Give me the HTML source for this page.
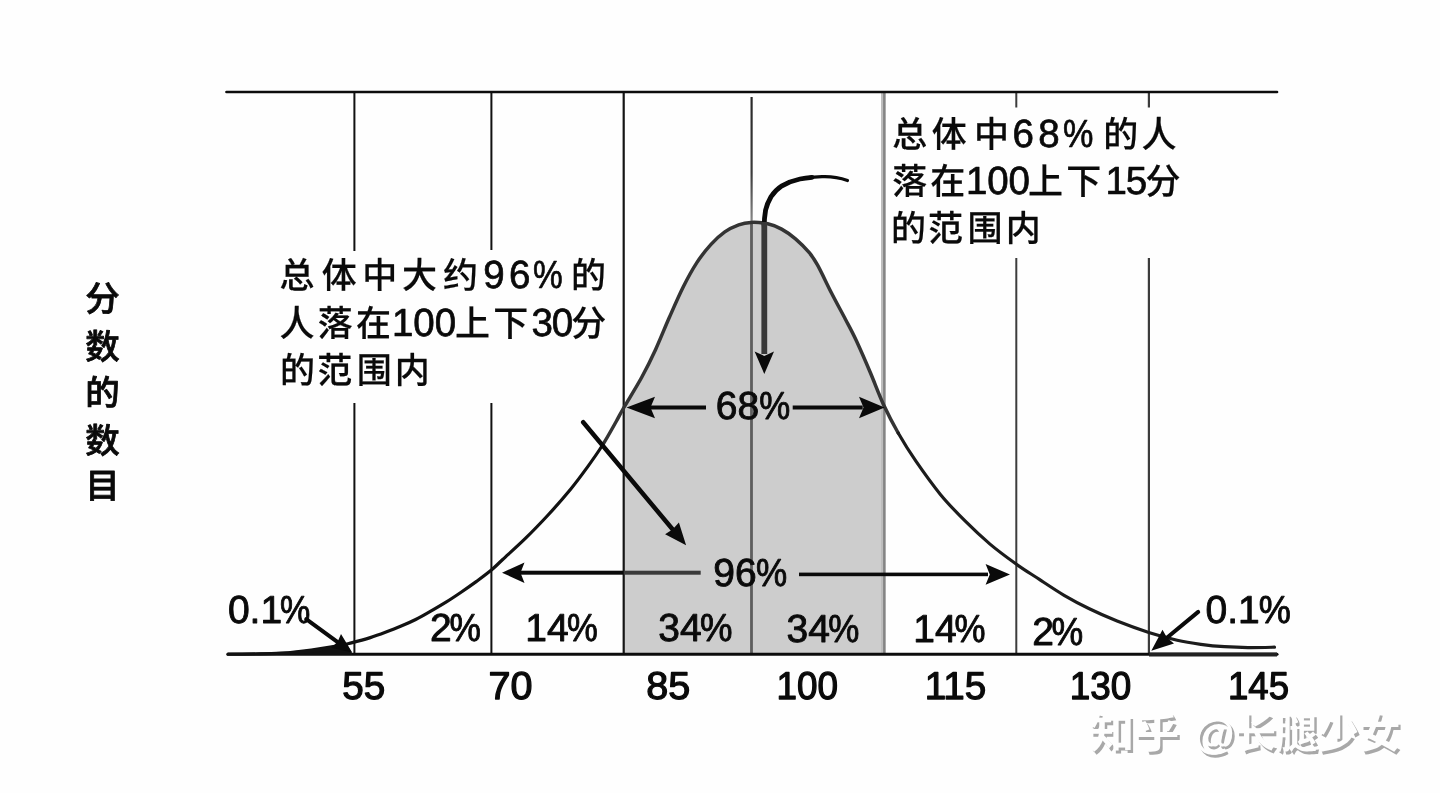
<!DOCTYPE html>
<html lang="zh-CN">
<head>
<meta charset="utf-8">
<title>智商正态分布图</title>
<style>
  html, body { margin: 0; padding: 0; background: #fefefe; }
  body { width: 1440px; height: 793px; overflow: hidden; }
  svg { display: block; filter: grayscale(1); text-rendering: geometricPrecision; }
  .num { font-family: "Liberation Sans", sans-serif; font-size: 39px; fill: #0a0a0a; stroke: #0a0a0a; stroke-width: 0.9px; stroke-linejoin: round; }
  .num.ax { stroke-width: 1.25px; font-size: 38.8px; }
  .cjk { font-family: "Liberation Sans", "Noto Sans CJK SC", sans-serif; font-size: 35px; font-weight: 500; fill: #0a0a0a; stroke: #0a0a0a; stroke-width: 0.2px; stroke-linejoin: round; }
  .cjk .d { font-size: 38.5px; font-weight: 400; stroke-width: 0.7px; }
  .ylab { font-family: "Liberation Sans", "Noto Sans CJK SC", sans-serif; font-size: 34.5px; font-weight: 500; fill: #0a0a0a; stroke: #0a0a0a; stroke-width: 0.8px; stroke-linejoin: round; }
  .wm { font-family: "Liberation Sans", "Noto Sans CJK SC", sans-serif; font-size: 42px; font-weight: 700; }
</style>
</head>
<body>
<svg width="1440" height="793" viewBox="0 0 1440 793">
  <defs>
    <linearGradient id="cl" gradientUnits="userSpaceOnUse" x1="0" y1="97" x2="0" y2="224">
      <stop offset="0" stop-color="#2a2a2a"/>
      <stop offset="0.6" stop-color="#3c3c3c"/>
      <stop offset="1" stop-color="#8c8c8c"/>
    </linearGradient>
  </defs>
  <rect x="0" y="0" width="1440" height="793" fill="#fefefe"/>

  <!-- shaded 68% region -->
  <path d="M623.6 655 L623.6 408 C627.8 400.7 636.3 387.2 641.6 377.5 C646.9 367.8 650.9 359.7 655.5 349.7 C660.1 339.7 664.7 327.9 669.3 317.5 C673.9 307.1 678.6 296.2 683.2 287.0 C687.8 277.8 692.4 269.5 697.0 262.4 C701.6 255.3 706.4 249.5 711.0 244.4 C715.6 239.3 720.2 235.2 724.8 231.9 C729.4 228.6 734.3 226.4 738.7 224.8 C743.1 223.2 746.2 222.6 751.0 222.4 C755.8 222.2 762.6 222.7 767.7 223.8 C772.8 224.9 777.0 226.6 781.6 229.1 C786.2 231.6 790.9 234.9 795.5 238.8 C800.1 242.7 805.6 248.3 809.3 252.7 C813.0 257.1 813.9 258.5 817.6 265.2 C821.3 271.9 826.9 284.0 831.5 293.0 C836.1 302.0 841.2 311.2 845.4 319.2 C849.6 327.2 852.4 332.1 856.5 341.0 C860.6 349.9 865.8 361.8 870.3 372.5 C874.8 383.2 879.1 394.9 883.7 405.0 L883.7 655 Z" fill="#cdcdcd"/>

  <!-- vertical grid lines -->
  <g fill="none">
    <path d="M354.4 92 V251 M354.4 403 V654" stroke="#111" stroke-width="2"/>
    <path d="M491.4 92 V250 M491.4 403 V654" stroke="#111" stroke-width="2"/>
    <path d="M623.7 92 V654" stroke="#151515" stroke-width="2.2"/>
    <path d="M751.6 97 V224" stroke="url(#cl)" stroke-width="2.2"/>
    <path d="M751.5 222 V654" stroke="#5e5e5e" stroke-width="2.8"/>
    <path d="M883.3 92 V654" stroke="#bdbdbd" stroke-width="4.6"/>
    <path d="M884.3 92 V654" stroke="#848484" stroke-width="2.4"/>
    <path d="M1016.3 92 V107.5 M1016.3 258 V654" stroke="#3c3c3c" stroke-width="2"/>
    <path d="M1148.9 92 V107.5 M1148.9 258 V654" stroke="#3c3c3c" stroke-width="2.2"/>
  </g>

  <!-- top and bottom horizontal lines -->
  <path d="M226.5 92 H1277" stroke="#0c0c0c" stroke-width="2.7" stroke-linecap="round" fill="none"/>
  <path d="M228 654.3 H1277" stroke="#0c0c0c" stroke-width="3" stroke-linecap="round" fill="none"/>
  <path d="M1149 654.6 H1277" stroke="#222" stroke-width="4" fill="none"/>
  <!-- dark sliver under the left tail -->
  <path d="M228 655 L228 653 L260 652.6 L288 651.2 L311 648.6 L333 645 L346 643 L352 653 L352 655 Z" fill="#111"/>

  <!-- bell curve -->
  <g fill="none" stroke-width="3.2" stroke-linecap="round" stroke-linejoin="round">
    <path d="M602.6 445.0 C607.5 437.2 612.7 427.7 616.2 421.5 C619.7 415.3 619.4 415.3 623.6 408.0 C627.8 400.7 636.3 387.2 641.6 377.5 C646.9 367.8 650.9 359.7 655.5 349.7 C660.1 339.7 664.7 327.9 669.3 317.5 C673.9 307.1 678.6 296.2 683.2 287.0 C687.8 277.8 692.4 269.5 697.0 262.4 C701.6 255.3 706.4 249.5 711.0 244.4 C715.6 239.3 720.2 235.2 724.8 231.9 C729.4 228.6 734.3 226.4 738.7 224.8 C743.1 223.2 746.2 222.6 751.0 222.4 C755.8 222.2 762.6 222.7 767.7 223.8 C772.8 224.9 777.0 226.6 781.6 229.1 C786.2 231.6 790.9 234.9 795.5 238.8 C800.1 242.7 805.6 248.3 809.3 252.7 C813.0 257.1 813.9 258.5 817.6 265.2 C821.3 271.9 826.9 284.0 831.5 293.0 C836.1 302.0 841.2 311.2 845.4 319.2 C849.6 327.2 852.4 332.1 856.5 341.0 C860.6 349.9 865.8 361.8 870.3 372.5 C874.8 383.2 879.1 394.9 883.7 405.0 C888.4 415.1 892.8 423.6 898.2 433.0" stroke="#343434" stroke-width="3.5"/>
    <path d="M228.0 654.2 C233.3 654.2 250.0 654.1 260.0 653.9 C270.0 653.7 279.5 653.5 288.0 653.0 C296.5 652.5 303.5 651.9 311.0 650.9 C318.5 649.9 326.3 648.6 333.0 647.3 C339.7 646.0 345.2 644.5 351.4 642.9 C357.6 641.3 364.6 639.4 370.3 637.6 C376.0 635.8 380.3 634.2 385.4 632.3 C390.4 630.4 395.6 628.4 400.6 626.3 C405.7 624.2 410.7 622.0 415.7 619.5 C420.7 617.0 425.8 614.0 430.8 611.1 C435.9 608.2 440.9 605.2 446.0 602.1 C451.1 599.0 456.1 595.6 461.1 592.2 C466.1 588.8 471.1 585.3 476.2 581.6 C481.2 577.9 487.0 573.7 491.4 570.0 C495.8 566.3 497.0 564.8 502.7 559.5 C508.4 554.2 517.8 545.8 525.4 538.4 C533.0 531.0 540.5 523.2 548.1 515.0 C555.7 506.8 564.4 496.8 570.8 489.0 C577.2 481.2 581.4 475.4 586.7 468.1 C592.0 460.8 597.7 452.8 602.6 445.0" stroke="#121212"/>
    <path d="M898.2 433.0 C903.6 442.4 908.8 450.9 915.9 461.2 C923.0 471.5 932.4 484.7 940.6 494.7 C948.8 504.7 957.1 513.0 965.3 521.2 C973.5 529.4 981.5 536.9 990.0 544.1 C998.5 551.3 1008.3 558.4 1016.5 564.3 C1024.7 570.2 1031.5 574.2 1039.4 579.4 C1047.3 584.6 1055.9 590.4 1064.1 595.3 C1072.3 600.1 1080.0 604.2 1088.8 608.5 C1097.6 612.8 1107.1 617.0 1117.1 621.0 C1127.1 625.0 1138.8 629.2 1148.8 632.4 C1158.8 635.6 1168.5 638.2 1177.2 640.2 C1185.9 642.2 1192.9 643.2 1200.8 644.3 C1208.7 645.4 1216.6 646.2 1224.5 646.7 C1232.4 647.2 1239.7 647.5 1248.0 647.6 C1256.3 647.7 1270.1 647.3 1274.5 647.2" stroke="#1c1c1c"/>
  </g>

  <!-- 68% double arrow -->
  <g fill="#0a0a0a" stroke="none">
    <rect x="648" y="405.5" width="58" height="4"/>
    <polygon points="626.5,407.5 655,396.8 650.5,407.5 655,418.2"/>
    <rect x="792.7" y="405.5" width="70" height="4"/>
    <polygon points="884.6,407.5 859,396.8 863.5,407.5 859,418.2"/>
  </g>

  <!-- 96% double arrow -->
  <g stroke="none">
    <rect x="520" y="570.7" width="104" height="4" fill="#0a0a0a"/>
    <rect x="623.7" y="570.7" width="77" height="4" fill="#3a3a3a"/>
    <polygon points="502,572.7 524.5,562.5 520.5,572.7 524.5,582.9" fill="#0a0a0a"/>
    <rect x="799" y="572.6" width="189" height="3.6" fill="#0a0a0a"/>
    <polygon points="1010,574.4 985.6,564 989.8,574.4 985.6,584.8" fill="#0a0a0a"/>
  </g>

  <!-- diagonal arrow from the 96% caption -->
  <g>
    <path d="M583.2 422.2 L674 531" stroke="#0a0a0a" stroke-width="4.5" stroke-linecap="round" fill="none"/>
    <polygon points="686.1,545.3 665.1,534.2 672.8,529.3 678.9,522.6" fill="#0a0a0a"/>
  </g>

  <!-- curved arrow from the 68% caption -->
  <g fill="none">
    <path d="M847.5 180.5 C838 177.2 829 176.4 822 176.7 C812 177 805 178 800 179 C793 180.5 787 183 782 185.8 C777 189 773.5 193 771 196.8 C768 202 766.5 206 765.6 210 C764.6 216 764.2 221 764.2 226" stroke="#0a0a0a" stroke-width="3.2" stroke-linecap="round"/>
    <path d="M812 177.4 C807 177.8 803 178.4 800 179 C793 180.5 787 183 782 185.8 C777 189 773.5 193 771 196.8 C768 202 766.5 206 765.6 210 C764.6 216 764.2 221 764.2 226" stroke="#0a0a0a" stroke-width="4.8" stroke-linecap="round"/>
    <path d="M764.3 222 V354" stroke="#383838" stroke-width="5.8"/>
    <polygon points="764.3,374 754.6,351.5 764.3,356 774,351.5" fill="#0a0a0a"/>
  </g>

  <!-- 0.1% arrows -->
  <g>
    <path d="M306.2 619.1 L338 642.3" stroke="#0a0a0a" stroke-width="4" stroke-linecap="round" fill="none"/>
    <polygon points="352.2,652.6 331,647.7 337.5,641.9 341,633.9" fill="#0a0a0a"/>
    <path d="M1198.2 611.9 L1166 638.5" stroke="#0a0a0a" stroke-width="4" stroke-linecap="round" fill="none"/>
    <polygon points="1151.3,650.8 1162.5,629.8 1167,637.7 1174,643.6" fill="#0a0a0a"/>
  </g>

  <!-- axis numbers -->
  <g class="num ax" text-anchor="middle">
    <text x="363.8" y="698.6" textLength="43" lengthAdjust="spacingAndGlyphs">55</text>
    <text x="510.5" y="698.6" textLength="44" lengthAdjust="spacingAndGlyphs">70</text>
    <text x="668.3" y="698.6" textLength="44" lengthAdjust="spacingAndGlyphs">85</text>
    <text x="807.2" y="698.6" textLength="61.5" lengthAdjust="spacingAndGlyphs">100</text>
    <text x="955.5" y="698.6" textLength="61.5" lengthAdjust="spacingAndGlyphs">115</text>
    <text x="1100.5" y="698.6" textLength="61.5" lengthAdjust="spacingAndGlyphs">130</text>
    <text x="1258.5" y="698.6" textLength="61" lengthAdjust="spacingAndGlyphs">145</text>
  </g>

  <!-- percentage labels -->
  <g class="num">
    <text x="227.9" y="623.3">0.1<tspan x="280.1" textLength="30.3" lengthAdjust="spacingAndGlyphs">%</tspan></text>
    <text x="430.0" y="641.3">2<tspan x="449.4" textLength="31.4" lengthAdjust="spacingAndGlyphs">%</tspan></text>
    <text x="525.2" y="641.2">14<tspan x="566.9" textLength="30.8" lengthAdjust="spacingAndGlyphs">%</tspan></text>
    <text x="658.2" y="641.2">34<tspan x="699.9" textLength="32.5" lengthAdjust="spacingAndGlyphs">%</tspan></text>
    <text x="786.5" y="641.5">34<tspan x="828.3" textLength="31.1" lengthAdjust="spacingAndGlyphs">%</tspan></text>
    <text x="913.3" y="641.5">14<tspan x="954.6" textLength="31.0" lengthAdjust="spacingAndGlyphs">%</tspan></text>
    <text x="1032.3" y="644.5">2<tspan x="1051.6" textLength="31.7" lengthAdjust="spacingAndGlyphs">%</tspan></text>
    <text x="1205.6" y="622.7">0.1<tspan x="1258.7" textLength="32.1" lengthAdjust="spacingAndGlyphs">%</tspan></text>
    <text x="715.7" y="418.5">68<tspan x="759.2" textLength="31.0" lengthAdjust="spacingAndGlyphs">%</tspan></text>
    <text x="713.3" y="585.8">96<tspan x="755.9" textLength="31.2" lengthAdjust="spacingAndGlyphs">%</tspan></text>
  </g>

  <!-- left caption -->
  <g class="cjk">
    <text transform="scale(1 1.02)" y="282.5"><tspan x="279.5 321.7 362.2 402.0 443.0">总体中大约</tspan><tspan class="d" x="483.3 509.1">96</tspan><tspan class="d" x="533" textLength="29.7" lengthAdjust="spacingAndGlyphs">%</tspan><tspan x="571.0">的</tspan></text>
    <text transform="scale(1 1.02)" y="329.5"><tspan x="279.5 317.7 356.0">人落在</tspan><tspan class="d" x="391.9 413.3 434.7">100</tspan><tspan x="455.0 493.2">上下</tspan><tspan class="d" x="531.5 551.7">30</tspan><tspan x="571.2">分</tspan></text>
    <text transform="scale(1 1.02)" y="375.5"><tspan x="280.1 317.2 356.8 394.8">的范围内</tspan></text>
  </g>

  <!-- right caption -->
  <g class="cjk">
    <text transform="scale(1 1.02)" y="144.2"><tspan x="892.2 931.7 974.0">总体中</tspan><tspan class="d" x="1012.5 1038.2">68</tspan><tspan class="d" x="1063" textLength="30.4" lengthAdjust="spacingAndGlyphs">%</tspan><tspan x="1103.2 1141.6">的人</tspan></text>
    <text transform="scale(1 1.02)" y="189.8"><tspan x="892.2 930.3">落在</tspan><tspan class="d" x="966.0 987.2 1008.4">100</tspan><tspan x="1028.1 1066.2">上下</tspan><tspan class="d" x="1105.5 1125.8">15</tspan><tspan x="1145.5">分</tspan></text>
    <text transform="scale(1 1.02)" y="235.9"><tspan x="891.0 928.0 967.6 1005.8">的范围内</tspan></text>
  </g>

  <!-- y axis label -->
  <g class="ylab" text-anchor="middle">
    <text x="102.6" y="310.5">分</text>
    <text x="102.6" y="358.5">数</text>
    <text x="102.6" y="404.5">的</text>
    <text x="102.6" y="453">数</text>
    <text x="102.6" y="498">目</text>
  </g>

  <!-- watermark -->
  <g class="wm">
    <text x="1091.7" y="750.8" fill="#a8a8a8" textLength="90" lengthAdjust="spacingAndGlyphs">知乎</text>
    <text x="1196.7" y="750.8" fill="#a8a8a8" textLength="206" lengthAdjust="spacingAndGlyphs">@长腿少女</text>
    <text x="1089.3" y="748.4" fill="#fefefe" textLength="90" lengthAdjust="spacingAndGlyphs">知乎</text>
    <text x="1194.3" y="748.4" fill="#fefefe" textLength="206" lengthAdjust="spacingAndGlyphs">@长腿少女</text>
  </g>
</svg>
</body>
</html>
